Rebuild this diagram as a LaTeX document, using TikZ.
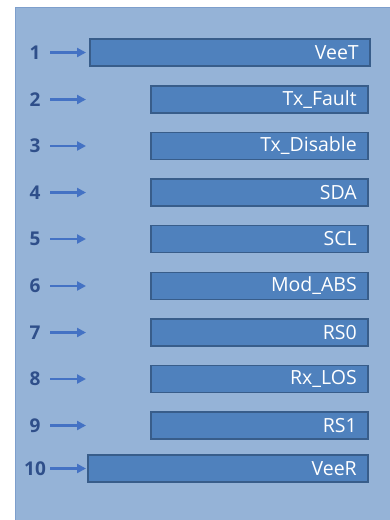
\documentclass[tikz,border=0pt]{standalone}
\usepackage{fontspec}
\setmainfont{Open Sans}
\usetikzlibrary{arrows.meta}
\definecolor{panelfill}{HTML}{95B3D7}
\definecolor{panelline}{HTML}{7E9FCC}
\definecolor{barfill}{HTML}{4F81BD}
\definecolor{barline}{HTML}{385D8A}
\definecolor{numblue}{HTML}{2F4F8A}
\definecolor{arrowblue}{HTML}{4472C4}
\begin{document}
\begin{tikzpicture}[x=1pt, y=-1pt,
    pinbar/.style = {draw=barline, fill=barfill, line width=1.5pt, anchor=west,
        minimum height=27pt, inner xsep=11pt, inner ysep=0pt, align=right,
        text=white, font=\fontsize{19.5}{19.5}\selectfont},
    pinnum/.style = {minimum width=30pt, inner sep=0pt, text=numblue,
        font=\bfseries\fontsize{19}{19}\selectfont},
    pinarrow/.style = {draw=arrowblue, line width=2.2pt, -{Triangle[length=9pt, width=9pt]}}]
    \useasboundingbox (0,0) rectangle (390,520);
    \fill[panelfill, draw=panelline, line width=0.8pt] (15.5,7.5) rectangle (395,525);
    \foreach \n/\y/\x/\w/\lab [evaluate=\w as \tw using \w-22] in {1/52.5/89/280/VeeT,
            2/99.5/150/217/Tx\_Fault, 3/146/150/217/Tx\_Disable, 4/192.5/150/217/SDA,
            5/239/150/217/SCL, 6/286/150/217/Mod\_ABS, 7/332.5/150/217/RS0,
            8/379/150/217/Rx\_LOS, 9/425.5/150/217/RS1, 10/468.5/87/280/VeeR} {
        \node[pinnum] (num\n) at (35,\y) {\n};
        \coordinate (tip\n) at (86,\y);
        \node[pinbar, text width=\tw pt] (bar\n) at (\x,\y) {\lab};
        \draw[pinarrow] (num\n.east) -- (tip\n);
    }
\end{tikzpicture}
\end{document}
